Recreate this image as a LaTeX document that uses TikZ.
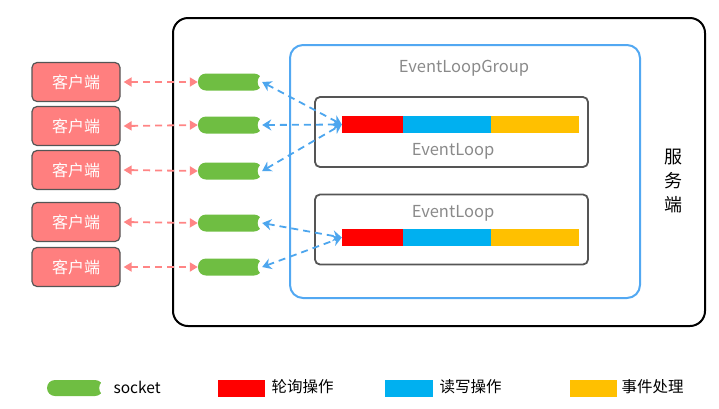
\documentclass[tikz,border=0pt]{standalone}
\usepackage{fontspec}
\setmainfont{Noto Sans CJK SC}
\usepackage{xcolor}
\usetikzlibrary{arrows.meta}
\definecolor{clientred}{HTML}{FF7F7F}
\definecolor{socketgreen}{HTML}{6FBE42}
\definecolor{pollred}{HTML}{FF0000}
\definecolor{rwblue}{HTML}{00B0F0}
\definecolor{eventorange}{HTML}{FFC000}
\definecolor{groupblue}{HTML}{52A8F2}
\definecolor{linkblue}{HTML}{4DA6EE}
\definecolor{linkpink}{HTML}{FF8585}
\definecolor{boxgray}{HTML}{555555}
\definecolor{textgray}{HTML}{8A8A8A}

\tikzset{
    client/.style = {fill = clientred, draw = boxgray, line width = 1.2pt, rectangle, rounded corners = 5pt, minimum width = 88pt, minimum height = 39pt, text = white, font = \fontsize{16}{18}\selectfont},
    socket/.style = {fill = socketgreen, rectangle, rounded corners = 8pt, minimum width = 64pt, minimum height = 17pt, inner sep = 0pt},
    notch/.style = {fill = white},
    segment/.style = {rectangle, minimum height = 17pt, inner sep = 0pt},
    loopbox/.style = {draw = boxgray, line width = 1.8pt, rectangle, rounded corners = 5pt, minimum width = 273pt, minimum height = 70pt},
    looplabel/.style = {text = textgray, font = \fontsize{16.5}{18}\selectfont},
    pinklink/.style = {{Triangle[width = 9pt, length = 8pt]}-{Triangle[width = 9pt, length = 8pt]}, linkpink, line width = 1.8pt, dash pattern = on 7pt off 5pt},
    bluelink/.style = {{Stealth[width = 11pt, length = 9pt]}-{Stealth[width = 11pt, length = 9pt]}, linkblue, line width = 1.8pt, dash pattern = on 7pt off 5pt},
    legendtext/.style = {anchor = west, font = \fontsize{15.5}{18}\selectfont}
}

\begin{document}
\begin{tikzpicture}[x = 1pt, y = -1pt]

        \useasboundingbox (0, 0) rectangle (719, 408);

        % Server and group frames
        \node [draw, line width = 2pt, rectangle, rounded corners = 15pt, minimum width = 532pt, minimum height = 308pt] (server) at (439, 172) {};
        \node [draw = groupblue, line width = 2pt, rectangle, rounded corners = 13pt, minimum width = 350pt, minimum height = 253pt] (group) at (465, 171.5) {};
        \node [looplabel] (grouplabel) at (464, 68) {EventLoopGroup};
        \node [font = \fontsize{18}{24}\selectfont, align = center] (serverlabel) at (673, 181) {服\\务\\端};

        % Event loops
        \node [loopbox] (loop1) at (451.5, 132) {};
        \node [segment, fill = pollred, minimum width = 61pt] (r1) at (372.5, 124.5) {};
        \node [segment, fill = rwblue, minimum width = 88pt] (b1) at (447, 124.5) {};
        \node [segment, fill = eventorange, minimum width = 88pt] (o1) at (535, 124.5) {};
        \node [looplabel] (label1) at (453, 151) {EventLoop};

        \node [loopbox] (loop2) at (451.5, 229.5) {};
        \node [segment, fill = pollred, minimum width = 61pt] (r2) at (372.5, 237.5) {};
        \node [segment, fill = rwblue, minimum width = 88pt] (b2) at (447, 237.5) {};
        \node [segment, fill = eventorange, minimum width = 88pt] (o2) at (535, 237.5) {};
        \node [looplabel] (label2) at (453, 213) {EventLoop};

        % Clients and sockets
        \foreach \n/\y in {1/82, 2/125, 3/171, 4/223, 5/267} {
            \node [socket] (s\n) at (230, \y) {};
            \fill [notch] (s\n.east) ++(4, 0) circle (8.5pt);
        }
        \foreach \n/\y in {1/82, 2/126, 3/170, 4/222, 5/267} {
            \node [client] (c\n) at (76, \y) {客户端};
            \draw [pinklink] (c\n.east) ++(3, 0) coordinate (e\n) -- (s\n.west);
        }

        % Links to the loops
        \draw [bluelink] (s1.east) -- (r1.west);
        \draw [bluelink] (s2.east) -- (r1.west);
        \draw [bluelink] (s3.east) -- (r1.west);
        \draw [bluelink] (s4.east) -- (r2.west);
        \draw [bluelink] (s5.east) -- (r2.west);

        % Legend
        \node [socket, minimum width = 56pt, minimum height = 16pt] (legsocket) at (75, 388) {};
        \fill [notch] (legsocket.east) ++(4, 0) circle (8pt);
        \node [legendtext] (legsockettext) at (110, 387) {socket};
        \node [segment, fill = pollred, minimum width = 47pt] (legpoll) at (241.5, 388) {};
        \node [legendtext] (legpolltext) at (268, 387) {轮询操作};
        \node [segment, fill = rwblue, minimum width = 48pt] (legrw) at (409, 388) {};
        \node [legendtext] (legrwtext) at (436, 387) {读写操作};
        \node [segment, fill = eventorange, minimum width = 47pt] (legevent) at (593.5, 388) {};
        \node [legendtext] (legeventtext) at (618, 387) {事件处理};

    \end{tikzpicture}
\end{document}
